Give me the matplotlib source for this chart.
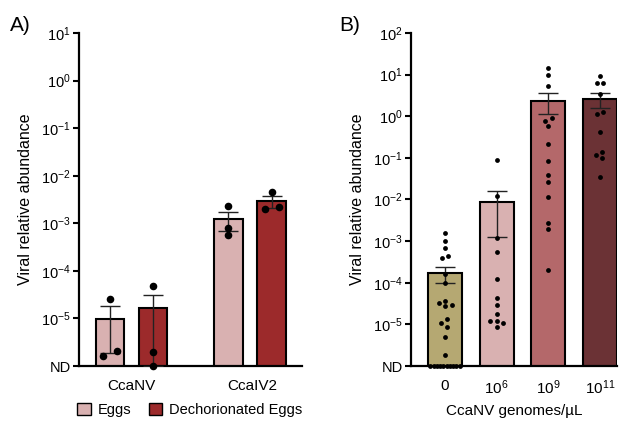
import numpy as np
import matplotlib
matplotlib.use("Agg")
import matplotlib.pyplot as plt
from matplotlib.patches import Patch

plt.rcParams["font.family"] = ["Liberation Sans", "DejaVu Sans"]
plt.rcParams["mathtext.fontset"] = "custom"
plt.rcParams["mathtext.rm"] = "Liberation Sans"
plt.rcParams["mathtext.it"] = "Liberation Sans:italic"
plt.rcParams["mathtext.bf"] = "Liberation Sans:bold"

# -----------------------------
# Data (0 = not detected, drawn at the ND level)
# -----------------------------
ND_LEVEL = 1e-6

# Panel A
a_viruses = ["CcaNV", "CcaIV2"]
a_conditions = ["Eggs", "Dechorionated Eggs"]
a_colors = ["#d9b1b1", "#9c2a2b"]
a_eggs_ccanv = [2.6e-5, 1.6e-6, 2.1e-6]
a_dech_ccanv = [4.7e-5, 2.0e-6, 0.0]
a_eggs_ccaiv2 = [2.3e-3, 8.1e-4, 5.6e-4]
a_dech_ccaiv2 = [4.5e-3, 2.0e-3, 2.15e-3]

# Panel B
b_doses = ["0", "$10^{6}$", "$10^{9}$", "$10^{11}$"]
b_colors = ["#b5a872", "#d9b1b1", "#b4686a", "#6b3235"]
b_dose0 = [1.55e-3, 9.8e-4, 6.9e-4, 4.3e-4, 4.0e-4, 1.6e-4, 1.0e-4,
           3.7e-5, 3.2e-5, 2.9e-5, 2.7e-5, 1.35e-5, 1.07e-5, 8.5e-6,
           4.9e-6, 1.8e-6, 0, 0, 0, 0, 0, 0, 0, 0, 0, 0]
b_dose6 = [8.9e-2, 1.23e-2, 1.18e-3, 5.6e-4, 1.2e-4, 4.4e-5, 2.9e-5,
           1.8e-5, 1.23e-5, 1.2e-5, 1.07e-5, 8.5e-6]
b_dose9 = [14.5, 10.0, 5.4, 0.89, 0.78, 0.59, 0.22, 0.085, 0.039, 0.026,
           0.0117, 2.8e-3, 2.0e-3, 2.0e-4]
b_dose11 = [9.3, 6.3, 6.3, 3.4, 1.29, 1.15, 0.41, 0.141, 0.117, 0.097, 0.035]


def swarm_offsets(ax, x0, values, dy_min, dx_min, width):
    """Simple swarm: points closer than dy_min (px) vertically must sit
    at least dx_min (px) apart horizontally; each cluster is re-centred."""
    v = np.asarray(values, dtype=float)
    xs = np.full(len(v), float(x0))
    ys = np.where(v > 0, v, ND_LEVEL)

    # not-detected points: spread evenly along the axis inside the bar
    nd = np.where(v <= 0)[0]
    if len(nd) > 1:
        xs[nd] = x0 + np.linspace(-0.43, 0.43, len(nd)) * width
    det = np.where(v > 0)[0]
    if len(det) == 0:
        return xs, ys

    xscale = ax.transData.transform((1, 1))[0] - ax.transData.transform((0, 1))[0]
    ypx = {i: ax.transData.transform((x0, ys[i]))[1] for i in det}
    order = sorted(det, key=lambda i: -ypx[i])
    placed = {}
    for i in order:
        near = [j for j in placed if abs(ypx[j] - ypx[i]) < dy_min]
        cands = [0.0] + [placed[j] + s * dx_min for j in near for s in (-1, 1)]
        ok = [c for c in cands if all(abs(c - placed[j]) >= dx_min - 1e-9 for j in near)]
        placed[i] = min(ok, key=lambda c: (abs(c), c))

    # re-centre connected clusters
    clusters = []
    for i in order:
        if clusters and abs(ypx[clusters[-1][-1]] - ypx[i]) < dy_min:
            clusters[-1].append(i)
        else:
            clusters.append([i])
    for cl in clusters:
        m = np.mean([placed[i] for i in cl])
        for i in cl:
            xs[i] = x0 + (placed[i] - m) / xscale
    return xs, ys


def draw_group(ax, x, values, color, width, msize, dy_min, dx_min, cap):
    v = np.asarray(values, dtype=float)
    mean = v.mean()
    sem = v.std(ddof=1) / np.sqrt(len(v))
    ax.bar(x, mean, width=width, color=color, edgecolor="black",
           linewidth=1.5, bottom=0, zorder=2)
    ax.errorbar(x, mean, yerr=[[min(sem, mean - ND_LEVEL * 1.01)], [sem]], fmt="none",
                ecolor="#222222", elinewidth=1.0, capsize=cap, capthick=1.0, zorder=3)
    xs, ys = swarm_offsets(ax, x, values, dy_min, dx_min, width)
    ax.scatter(xs, ys, s=msize, color="black", zorder=4, clip_on=False,
               linewidths=0)


def style_axis(ax, top_exp):
    ax.set_yscale("log")
    ax.set_ylim(ND_LEVEL, 10.0 ** top_exp)
    ticks = [10.0 ** e for e in range(-6, top_exp + 1)]
    labels = ["ND"] + ["$10^{%d}$" % e for e in range(-5, top_exp + 1)]
    ax.set_yticks(ticks)
    ax.set_yticklabels(labels)
    ax.yaxis.set_minor_locator(matplotlib.ticker.NullLocator())
    for s in ["top", "right"]:
        ax.spines[s].set_visible(False)
    for s in ["left", "bottom"]:
        ax.spines[s].set_linewidth(1.6)
    ax.tick_params(axis="y", length=4, width=1.5, labelsize=10.5, pad=2)
    ax.tick_params(axis="x", length=0, labelsize=11, pad=9)
    ax.set_ylabel("Viral relative abundance", fontsize=11.5, labelpad=6)


fig = plt.figure(figsize=(6.24, 4.23), dpi=100)

# ---- Panel A ----
axA = fig.add_axes([79 / 624, 57 / 423, 223 / 624, 333 / 423])
axA.set_xlim(-0.443, 1.439)
style_axis(axA, 1)
a_groups = [[a_eggs_ccanv, a_dech_ccanv], [a_eggs_ccaiv2, a_dech_ccaiv2]]
for gi, pair in enumerate(a_groups):
    for ci, vals in enumerate(pair):
        x = gi + (-0.183 if ci == 0 else 0.183)
        draw_group(axA, x, vals, a_colors[ci], 0.24, 30, 7.0, 14.0, 7)
axA.set_xticks([0, 1.02])
axA.set_xticklabels(a_viruses)

# ---- Panel B ----
axB = fig.add_axes([411 / 624, 57 / 423, 206 / 624, 333 / 423])
axB.set_xlim(-0.66, 3.33)
style_axis(axB, 2)
for i, vals in enumerate([b_dose0, b_dose6, b_dose9, b_dose11]):
    draw_group(axB, i, vals, b_colors[i], 0.66, 12, 4.5, 6.5, 7)
axB.set_xticks(range(len(b_doses)))
axB.set_xticklabels(b_doses)
axB.set_xlabel("CcaNV genomes/µL", fontsize=11, labelpad=5)

# panel letters
fig.text(10 / 624, 1 - 31 / 423, "A)", fontsize=15)
fig.text(339 / 624, 1 - 31 / 423, "B)", fontsize=15)

# legend
handles = [Patch(facecolor=c, edgecolor="black", linewidth=1.0) for c in a_colors]
fig.legend(handles, a_conditions, loc="center", bbox_to_anchor=(190 / 624, 1 - 410 / 423),
           ncol=2, frameon=False, fontsize=10.5, handlelength=0.9, handleheight=0.9,
           handletextpad=0.5, columnspacing=1.2)

fig.savefig("out.png", dpi=100)
